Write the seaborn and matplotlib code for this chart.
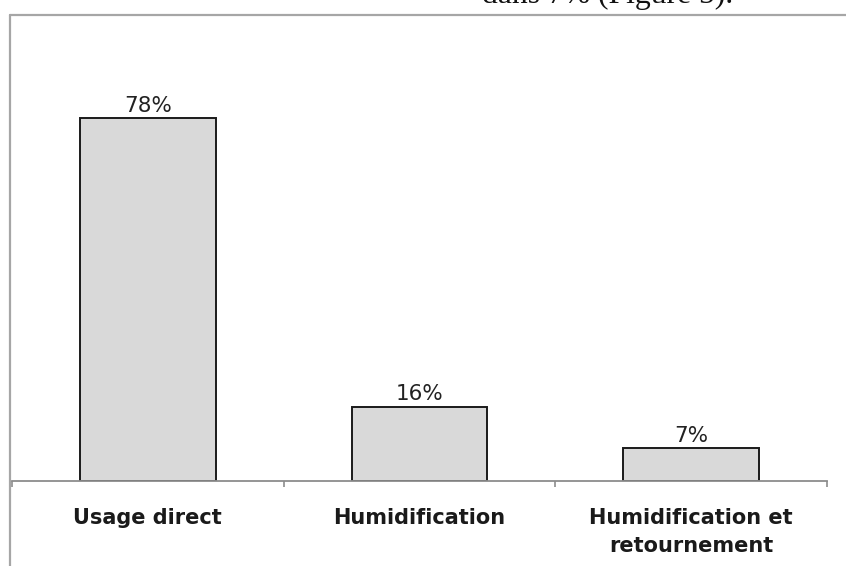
import matplotlib
matplotlib.use("Agg")
import matplotlib.pyplot as plt
from matplotlib.lines import Line2D
import seaborn as sns
import pandas as pd

categories = ["Usage direct", "Humidification", "Humidification et\nretournement"]
values = [78, 16, 7]
value_labels = ["78%", "16%", "7%"]
caption = "dans 7% (Figure 5)."

sns.set_theme(style="white")
plt.rcParams['font.family'] = ['DejaVu Sans']

df = pd.DataFrame({"cat": categories, "val": values})

fig = plt.figure(figsize=(8.46, 5.66), dpi=100)
W, H = 846, 566
ax = fig.add_axes([12 / W, (H - 481) / H, 815 / W, 465 / H])

sns.barplot(data=df, x="cat", y="val", ax=ax, color="#d9d9d9", saturation=1,
            width=0.5, edgecolor="#1a1a1a", linewidth=1.4, errorbar=None)

ax.set_xlim(-0.5, 2.5)
ax.set_ylim(0, 100)
ax.set_xlabel("")
ax.set_ylabel("")
ax.set_yticks([])

for s in ["top", "right", "left"]:
    ax.spines[s].set_visible(False)
ax.spines["bottom"].set_color("#8c8c8c")
ax.spines["bottom"].set_linewidth(1.3)

# category labels at minor ticks, boundary ticks as major
ax.set_xticks([-0.5, 0.5, 1.5, 2.5])
ax.set_xticklabels([])
ax.tick_params(axis="x", which="major", direction="out", length=4, width=1.2,
               color="#8c8c8c", bottom=True)
ax.set_xticks([0, 1, 2], minor=True)
ax.set_xticklabels(categories, minor=True, fontsize=15, fontweight="bold",
                   color="#1a1a1a")
ax.tick_params(axis="x", which="minor", length=0, pad=19.5, bottom=True)
for t in ax.get_xticklabels(minor=True):
    t.set_linespacing(1.5)

for cont in ax.containers:
    ax.bar_label(cont, labels=value_labels, padding=2, fontsize=15.5,
                 color="#222222")

# outer frame lines (top and left) of the embedded chart
fig.add_artist(Line2D([9.5 / W, 9.5 / W], [0, (H - 15) / H], color="#a6a6a6",
                      lw=1.6, transform=fig.transFigure))
fig.add_artist(Line2D([9.5 / W, 1], [(H - 15) / H, (H - 15) / H], color="#a6a6a6",
                      lw=1.6, transform=fig.transFigure))

# caption text above the frame, clipped at the top edge as in the reference
fig.text(482 / W, (H - 3) / H, caption, family="Liberation Serif", fontsize=22.8,
         ha="left", va="baseline", color="#111111")

fig.savefig("out.png", dpi=100)
